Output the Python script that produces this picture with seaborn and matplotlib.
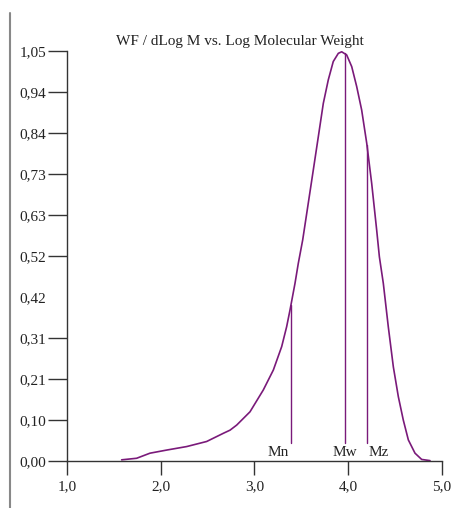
import matplotlib
matplotlib.use("Agg")
import matplotlib.pyplot as plt
import seaborn as sns
import pandas as pd
from matplotlib.lines import Line2D

sns.set_theme(style="white")
plt.rcParams['font.family'] = ['Liberation Serif', 'DejaVu Serif']

# Data
log_mw = [1.583, 1.743, 1.885, 2.063, 2.277, 2.490, 2.668, 2.739, 2.810, 2.952,
          3.094, 3.201, 3.290, 3.343, 3.379, 3.432, 3.467, 3.514, 3.557, 3.627,
          3.681, 3.734, 3.787, 3.840, 3.894, 3.930, 3.983, 4.037, 4.090, 4.143,
          4.197, 4.250, 4.303, 4.332, 4.374, 4.427, 4.481, 4.534, 4.587, 4.641,
          4.712, 4.783, 4.872]
wf = [0.003, 0.007, 0.020, 0.028, 0.037, 0.050, 0.071, 0.079, 0.092, 0.126,
      0.182, 0.233, 0.293, 0.344, 0.387, 0.455, 0.506, 0.566, 0.634, 0.745,
      0.831, 0.916, 0.976, 1.023, 1.044, 1.048, 1.040, 1.010, 0.959, 0.899,
      0.814, 0.711, 0.592, 0.523, 0.455, 0.344, 0.241, 0.165, 0.105, 0.054,
      0.020, 0.004, 0.001]
marker_names = ["Mn", "Mw", "Mz"]
marker_x = [3.386, 3.965, 4.200]
marker_top = [0.40, 1.045, 0.81]
y_ticks = [0.0, 0.105, 0.21, 0.315, 0.42, 0.525, 0.63, 0.735, 0.84, 0.945, 1.05]
y_labels = ["0,00", "0,10", "0,21", "0,31", "0,42", "0,52", "0,63", "0,73", "0,84", "0,94", "1,05"]
x_ticks = [1.0, 2.0, 3.0, 4.0, 5.0]
x_labels = ["1,0", "2,0", "3,0", "4,0", "5,0"]
title = "WF / dLog M vs. Log Molecular Weight"

purple = "#7a1a7a"
axis_col = "#333333"

fig = plt.figure(figsize=(4.67, 5.08), dpi=100)
ax = fig.add_axes([67/467, 47/508, 375/467, 410/508])

df = pd.DataFrame({"x": log_mw, "y": wf})
sns.lineplot(data=df, x="x", y="y", ax=ax, color=purple, lw=1.2, sort=False)

for name, mx, top in zip(marker_names, marker_x, marker_top):
    ax.plot([mx, mx], [0.046, top], color=purple, lw=1.0)

ax.text(marker_x[0] - 0.02, 0.006, "Mn", ha="right", va="bottom", fontsize=11, color="#222222")
ax.text(marker_x[1], 0.006, "Mw", ha="center", va="bottom", fontsize=11, color="#222222")
ax.text(marker_x[2] + 0.02, 0.006, "Mz", ha="left", va="bottom", fontsize=11, color="#222222")

ax.set_xlim(1.0, 5.0)
ax.set_ylim(0.0, 1.05)
ax.set_xticks(x_ticks)
ax.set_xticklabels(x_labels)
ax.set_yticks(y_ticks)
ax.set_yticklabels(y_labels)
ax.set_xlabel("")
ax.set_ylabel("")
for s in ["top", "right"]:
    ax.spines[s].set_visible(False)
for s in ["left", "bottom"]:
    ax.spines[s].set_color(axis_col)
    ax.spines[s].set_linewidth(1.0)
ax.tick_params(axis="y", direction="out", length=14, width=1.0, color=axis_col,
               labelsize=11, pad=1, labelcolor="#222222", left=True)
ax.tick_params(axis="x", direction="out", length=10, width=1.0, color=axis_col,
               labelsize=11, pad=4, labelcolor="#222222", bottom=True)
ax.yaxis.get_major_ticks()[4].tick1line.set_visible(False)
ax.grid(False)
for line in ax.get_lines():
    line.set_clip_on(False)

fig.text(240/467, 1 - 41/508, title, ha="center", va="center", fontsize=11, color="#222222")
fig.add_artist(Line2D([10/467, 10/467], [0, 1 - 13/508], transform=fig.transFigure,
                      color="#888888", lw=1.5))

fig.savefig("out.png", dpi=100)
